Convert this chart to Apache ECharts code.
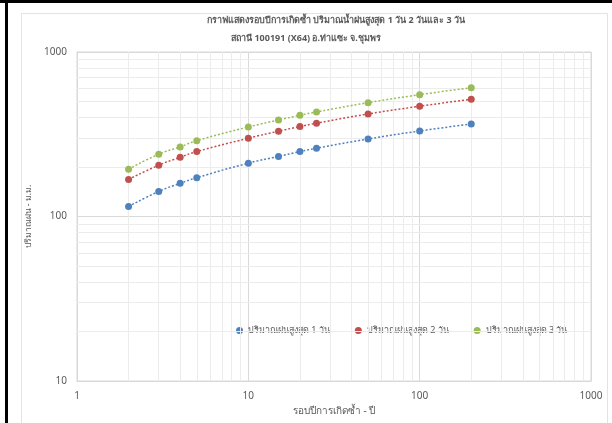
<!DOCTYPE html>
<html>
<head>
<meta charset="utf-8">
<script src="https://cdn.jsdelivr.net/npm/echarts@6/dist/echarts.min.js"></script>
<style>
  html, body { margin: 0; padding: 0; background: #fff; }
  #chart { width: 612px; height: 423px; }
</style>
</head>
<body>
<div id="chart"></div>
<script>
// รอบปีการเกิดซ้ำ (ปี)
const returnPeriods = [2, 3, 4, 5, 10, 15, 20, 25, 50, 100, 200];
// ปริมาณฝนสูงสุด (ม.ม.)
const rain1Day = [115, 142, 159, 172, 211, 232, 248, 260, 296, 331, 365];
const rain2Day = [168, 205, 229, 248, 299, 330, 352, 369, 420, 468, 516];
const rain3Day = [194, 239, 265, 289, 350, 386, 412, 432, 492, 550, 607];

const seriesNames = ['ปริมาณฝนสูงสุด 1 วัน', 'ปริมาณฝนสูงสุด 2 วัน', 'ปริมาณฝนสูงสุด 3 วัน'];
const seriesColors = ['#4F81BD', '#C0504D', '#9BBB59'];

// เส้นกริดย่อยของแกน log
const minorX = [2, 3, 4, 5, 6, 7, 8, 9, 20, 30, 40, 50, 60, 70, 80, 90, 200, 300, 400, 500, 600, 700, 800, 900];
const minorY = [20, 30, 40, 50, 60, 70, 80, 90, 200, 300, 400, 500, 600, 700, 800, 900];

const FONT = '"Noto Sans", "DejaVu Sans", sans-serif';
const TEXT_COLOR = '#595959';

const chart = echarts.init(document.getElementById('chart'));

function makeSeries(name, values, color) {
    return {
        name: name,
        type: 'line',
        data: returnPeriods.map((p, i) => [p, values[i]]),
        symbol: 'circle',
        symbolSize: 7,
        smooth: true,
        itemStyle: { color: color },
        lineStyle: { color: color, width: 1.5, type: [2, 2] },
        z: 5
    };
}

const minorLineSeries = {
    name: 'grid-minor',
    type: 'line',
    data: [],
    silent: true,
    markLine: {
        silent: true,
        symbol: 'none',
        label: { show: false },
        lineStyle: { color: '#ececec', width: 1, type: 'solid' },
        data: minorX.map(v => ({ xAxis: v })).concat(minorY.map(v => ({ yAxis: v })))
    },
    z: 1
};

const option = {
    backgroundColor: '#fff',
    animation: false,
    title: [
        {
            text: 'กราฟแสดงรอบปีการเกิดซ้ำ ปริมาณน้ำฝนสูงสุด 1 วัน 2 วันและ 3 วัน',
            left: 331,
            top: 11,
            textAlign: 'center',
            textStyle: { fontFamily: FONT, fontSize: 9, fontWeight: 'bold', color: TEXT_COLOR }
        },
        {
            text: 'สถานี 100191 (X64) อ.ท่าแซะ จ.ชุมพร',
            left: 301,
            top: 29,
            textAlign: 'center',
            textStyle: { fontFamily: FONT, fontSize: 9, fontWeight: 'bold', color: TEXT_COLOR }
        }
    ],
    legend: {
        data: seriesNames,
        left: 231,
        top: 321,
        icon: 'circle',
        itemWidth: 7,
        itemHeight: 7,
        itemGap: 25,
        textStyle: { fontFamily: FONT, fontSize: 9, color: TEXT_COLOR }
    },
    grid: {
        left: 77,
        right: 21,
        top: 52,
        bottom: 42,
        show: true,
        borderColor: '#d9d9d9',
        borderWidth: 1
    },
    xAxis: {
        type: 'log',
        logBase: 10,
        min: 1,
        max: 1000,
        name: 'รอบปีการเกิดซ้ำ - ปี',
        nameLocation: 'middle',
        nameGap: 24,
        nameTextStyle: { fontFamily: FONT, fontSize: 10, color: TEXT_COLOR },
        axisLine: { lineStyle: { color: '#d9d9d9' } },
        axisTick: { show: false },
        axisLabel: { fontFamily: FONT, fontSize: 10, color: TEXT_COLOR, margin: 10, formatter: v => String(v) },
        splitLine: { show: true, lineStyle: { color: '#d9d9d9' } },
        minorTick: { show: false },
        minorSplitLine: { show: false }
    },
    yAxis: {
        type: 'log',
        logBase: 10,
        min: 10,
        max: 1000,
        name: 'ปริมาณฝน - ม.ม.',
        nameLocation: 'middle',
        nameGap: 31,
        nameRotate: 90,
        nameTextStyle: { fontFamily: FONT, fontSize: 8.5, color: TEXT_COLOR },
        axisLine: { show: true, lineStyle: { color: '#d9d9d9' } },
        axisTick: { show: false },
        axisLabel: { fontFamily: FONT, fontSize: 10, color: TEXT_COLOR, margin: 10, formatter: v => String(v) },
        splitLine: { show: true, lineStyle: { color: '#d9d9d9' } },
        minorTick: { show: false },
        minorSplitLine: { show: false }
    },
    series: [
        minorLineSeries,
        makeSeries(seriesNames[0], rain1Day, seriesColors[0]),
        makeSeries(seriesNames[1], rain2Day, seriesColors[1]),
        makeSeries(seriesNames[2], rain3Day, seriesColors[2])
    ],
    graphic: [
        // ขอบของพื้นที่แผนภูมิ
        { type: 'rect', shape: { x: 21.5, y: 13.5, width: 586, height: 420 }, style: { fill: 'none', stroke: '#e3e3e3', lineWidth: 1 }, silent: true },
        // กรอบสีดำจากภาพต้นฉบับ
        { type: 'rect', shape: { x: 0, y: 0, width: 612, height: 3 }, style: { fill: '#000' }, silent: true },
        { type: 'rect', shape: { x: 5, y: 0, width: 3, height: 423 }, style: { fill: '#000' }, silent: true }
    ]
};

chart.setOption(option);
</script>
</body>
</html>
